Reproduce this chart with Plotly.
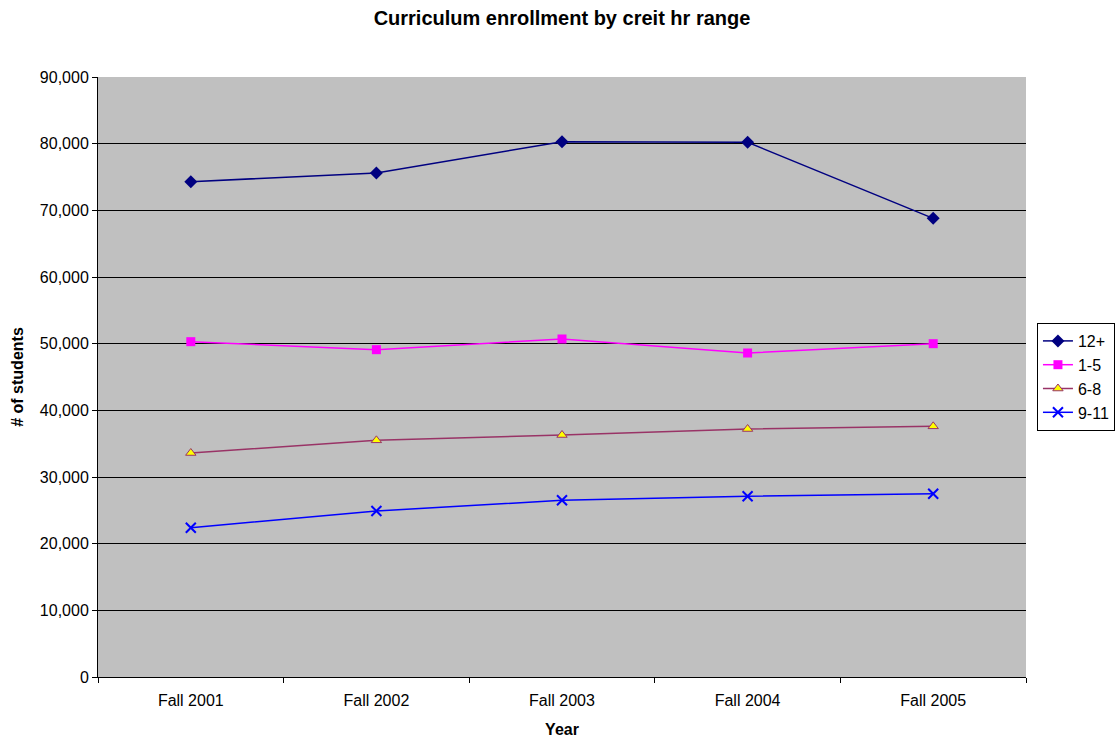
import plotly.graph_objects as go

years = ["Fall 2001", "Fall 2002", "Fall 2003", "Fall 2004", "Fall 2005"]
s_12plus = [74300, 75600, 80300, 80200, 68800]
s_1_5 = [50300, 49100, 50700, 48600, 50000]
s_6_8 = [33600, 35500, 36300, 37200, 37600]
s_9_11 = [22400, 24900, 26500, 27100, 27500]

fig = go.Figure()
fig.add_trace(go.Scatter(x=years, y=s_12plus, name="12+", mode="lines+markers",
                         line=dict(color="#000080", width=1.5),
                         marker=dict(symbol="diamond", size=10, color="#000080")))
fig.add_trace(go.Scatter(x=years, y=s_1_5, name="1-5", mode="lines+markers",
                         line=dict(color="#FF00FF", width=1.5),
                         marker=dict(symbol="square", size=9, color="#FF00FF")))
fig.add_trace(go.Scatter(x=years, y=s_6_8, name="6-8", mode="lines+markers",
                         line=dict(color="#993366", width=1.5),
                         marker=dict(symbol="triangle-up", size=9, color="#FFFF00",
                                     line=dict(color="#993366", width=1))))
fig.add_trace(go.Scatter(x=years, y=s_9_11, name="9-11", mode="lines+markers",
                         line=dict(color="#0000FF", width=1.5),
                         marker=dict(symbol="x-thin", size=10,
                                     line=dict(color="#0000FF", width=2))))

fig.update_layout(
    width=1117, height=740,
    margin=dict(l=98, r=91, t=77, b=63, autoexpand=False),
    paper_bgcolor="white",
    plot_bgcolor="#C0C0C0",
    font=dict(family="Liberation Sans, Arial, sans-serif", size=16, color="black"),
    title=dict(text="<b>Curriculum enrollment by creit hr range</b>", x=0.5, xref="paper",
               xanchor="center", y=1 - 18 / 740, yanchor="middle", font=dict(size=20)),
    showlegend=True,
    legend=dict(x=1.0118, xanchor="left", y=0.5, yanchor="middle",
                bordercolor="black", borderwidth=1, bgcolor="white",
                font=dict(size=16), tracegroupgap=0),
    xaxis=dict(type="category", range=[-0.5, 4.5], showgrid=False,
               showline=True, linecolor="black", linewidth=1,
               ticks="outside", tickson="boundaries", ticklen=5, tickcolor="black",
               tickfont=dict(size=16), ticklabelstandoff=9,
               title=dict(text="<b>Year</b>", standoff=15, font=dict(size=16)), zeroline=False),
    yaxis=dict(range=[0, 90000], dtick=10000, tickformat=",",
               showgrid=True, gridcolor="black", gridwidth=1,
               showline=True, linecolor="black", linewidth=1,
               ticks="outside", ticklen=5, tickcolor="black",
               tickfont=dict(size=16),
               title=dict(text="<b># of students</b>", standoff=12, font=dict(size=16)), zeroline=False),
)

fig.write_html("out.html")
